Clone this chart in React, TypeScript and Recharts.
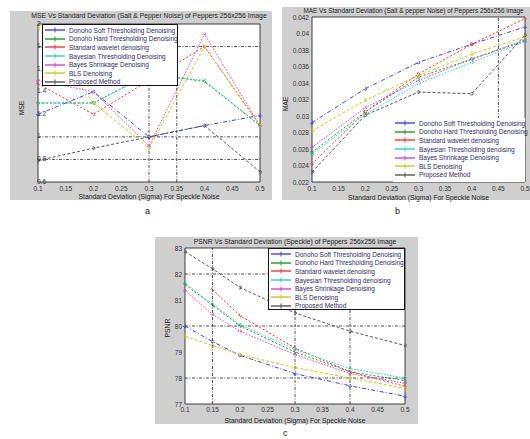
import React from "react";
import {
  LineChart,
  Line,
  XAxis,
  YAxis,
  CartesianGrid,
  ReferenceLine,
  ReferenceArea,
} from "recharts";

// shared x values
const sigmaAB = [0.1, 0.2, 0.3, 0.4, 0.5];
const sigmaC = [0.1, 0.15, 0.2, 0.3, 0.4, 0.5];
const xTicks = [0.1, 0.15, 0.2, 0.25, 0.3, 0.35, 0.4, 0.45, 0.5];

// (a) MSE, salt & pepper
const mseSoft = [1.2, 1.4, 1.0, 1.1, 1.19];
const mseHard = [1.3, 1.3, 1.56, 1.49, 1.1];
const mseStd = [1.47, 1.2, 1.5, 1.8, 1.1];
const mseBayesThr = [1.3, 1.3, 1.55, 1.5, 1.1];
const mseBayesShrink = [1.5, 1.4, 0.92, 1.91, 1.1];
const mseBls = [1.97, 1.3, 0.9, 1.8, 1.1];
const mseProposed = [0.79, 0.9, 1.0, 1.1, 0.69];
const mseTicks = [0.6, 0.8, 1, 1.2, 1.4, 1.6, 1.8, 2];

// (b) MAE, salt & pepper
const maeSoft = [0.0292, 0.0333, 0.0365, 0.0387, 0.0408];
const maeHard = [0.0256, 0.0305, 0.0347, 0.0369, 0.0391];
const maeStd = [0.0242, 0.0305, 0.0351, 0.0387, 0.0418];
const maeBayesThr = [0.0254, 0.0302, 0.0339, 0.0365, 0.039];
const maeBayesShrink = [0.0262, 0.031, 0.0343, 0.0369, 0.0392];
const maeBls = [0.0282, 0.0319, 0.0349, 0.0375, 0.0396];
const maeProposed = [0.0232, 0.0301, 0.0329, 0.0327, 0.0398];
const maeTicks = [0.022, 0.024, 0.026, 0.028, 0.03, 0.032, 0.034, 0.036, 0.038, 0.04, 0.042];

// (c) PSNR, speckle
const psnrSoft = [80.0, 79.4, 78.87, 78.17, 77.7, 77.3];
const psnrHard = [81.6, 80.8, 80.0, 79.0, 78.24, 77.9];
const psnrStd = [null, 81.4, 80.4, 79.15, 78.24, 77.68];
const psnrBayesThr = [81.65, 80.85, 80.05, 79.1, 78.36, 78.0];
const psnrBayesShrink = [81.36, 80.45, 79.8, 78.9, 78.17, 77.8];
const psnrBls = [79.6, 79.25, 78.9, 78.4, 78.0, 77.6];
const psnrProposed = [82.86, 82.2, 81.48, 80.5, 79.8, 79.25];
const psnrTicks = [77, 78, 79, 80, 81, 82, 83];

const namesA = [
  "Donoho Soft Thresholding Denoising",
  "Donoho Hard Thresholding Denoising",
  "Standard wavelet denoising",
  "Bayesian Thresholding Denoising",
  "Bayes Shrinkage Denoising",
  "BLS Denoising",
  "Proposed Method",
];
const namesBC = [
  "Donoho Soft Thresholding Denoising",
  "Donoho Hard Thresholding Denoising",
  "Standard wavelet denoising",
  "Bayesian Thresholding denoising",
  "Bayes Shrinkage Denoising",
  "BLS Denoising",
  "Proposed Method",
];

const keys = ["soft", "hard", "std", "bthr", "bshr", "bls", "prop"];
const colors = ["#3d3dff", "#1f9a1f", "#ff3333", "#33cccc", "#d244d2", "#c8c828", "#555555"];
const dashes = ["4 2 1 2", "2 2", "2 2", "1.5 1.5", "1.5 1.5", "3 2", "3 2"];

const toRows = (xs: number[], series: (number | null)[][]) =>
  xs.map((x, i) => {
    const row: any = { x };
    keys.forEach((k, j) => (row[k] = series[j][i]));
    return row;
  });

const dataA = toRows(sigmaAB, [mseSoft, mseHard, mseStd, mseBayesThr, mseBayesShrink, mseBls, mseProposed]);
const dataB = toRows(sigmaAB, [maeSoft, maeHard, maeStd, maeBayesThr, maeBayesShrink, maeBls, maeProposed]);
const dataC = toRows(sigmaC, [psnrSoft, psnrHard, psnrStd, psnrBayesThr, psnrBayesShrink, psnrBls, psnrProposed]);

const FONT = "'Liberation Sans', Arial, sans-serif";
const fmtX = (v: number) => String(+v.toFixed(2));

type Box = { left: number; top: number; width: number; height: number };
type Plot = { left: number; top: number; right: number; bottom: number };

function LegendBox({ box, names, border }: { box: Box; names: string[]; border: boolean }) {
  return (
    <div
      style={{
        position: "absolute",
        left: box.left,
        top: box.top,
        width: box.width,
        height: box.height,
        background: "#fff",
        border: border ? "1px solid #111" : "none",
        boxSizing: "border-box",
        zIndex: 2,
        fontFamily: FONT,
        fontSize: 6.5,
        color: "#2e2a5c",
      }}
    >
      {names.map((n, i) => (
        <div
          key={n}
          style={{
            position: "absolute",
            left: 0,
            top: 1 + i * 8.6,
            height: 8.6,
            display: "flex",
            alignItems: "center",
            whiteSpace: "nowrap",
          }}
        >
          <svg width={24} height={8} style={{ marginRight: 2 }}>
            <line x1={2} y1={4} x2={22} y2={4} stroke={colors[i]} strokeWidth={1.4} />
            <line x1={12} y1={1.5} x2={12} y2={6.5} stroke={colors[i]} strokeWidth={1} />
          </svg>
          <span>{n}</span>
        </div>
      ))}
    </div>
  );
}

function Panel(props: {
  box: Box;
  plot: Plot;
  data: any[];
  yDomain: [number, number];
  yTicks: number[];
  yFmt: (v: number) => string;
  insideY?: boolean;
  xTickGap: number;
  title: string;
  titleY: number;
  titleDX?: number;
  titleSize?: number;
  xLabelY: number;
  yLabel: string;
  yLabelX: number;
  yLabelY: number;
  gridX: number[];
  gridY: number[];
  legend: Box;
  names: string[];
  legendBorder: boolean;
}) {
  const { box, plot } = props;
  const margin = {
    top: plot.top - box.top,
    right: box.left + box.width - plot.right,
    left: 0,
    bottom: 0,
  };
  const yW = plot.left - box.left;
  const xH = box.top + box.height - plot.bottom;
  const cx = (plot.left + plot.right) / 2 - box.left;
  const text = { position: "absolute" as const, fontFamily: FONT, color: "#222", whiteSpace: "nowrap" as const };

  const yTick = (p: any) => (
    <text
      x={props.insideY ? p.x + 2 : p.x}
      y={props.insideY ? p.y - 1 : p.y}
      textAnchor={props.insideY ? "start" : "end"}
      dominantBaseline="central"
      fontSize={6.5}
      fill="#333"
      fontFamily={FONT}
    >
      {props.yFmt(p.payload.value)}
    </text>
  );

  return (
    <div
      style={{
        position: "absolute",
        left: box.left,
        top: box.top,
        width: box.width,
        height: box.height,
        background: "#cfcfcf",
      }}
    >
      <LineChart width={box.width} height={box.height} data={props.data} margin={margin}>
        <CartesianGrid horizontal={false} vertical={false} fill="#fff" />
        {props.gridX.map((g) => (
          <ReferenceLine key={"x" + g} x={g} stroke="#222" strokeWidth={0.8} strokeDasharray="3 1.5 1 1.5" />
        ))}
        {props.gridY.map((g) => (
          <ReferenceLine key={"y" + g} y={g} stroke="#222" strokeWidth={0.8} strokeDasharray="3 1.5 1 1.5" />
        ))}
        <XAxis
          dataKey="x"
          type="number"
          domain={[0.1, 0.5]}
          ticks={xTicks}
          tickFormatter={fmtX}
          height={xH}
          axisLine={false}
          tickLine={false}
          tickSize={0}
          tickMargin={props.xTickGap}
          tick={{ fontSize: 6.5, fill: "#333", fontFamily: FONT }}
          interval={0}
        />
        <YAxis
          type="number"
          domain={props.yDomain}
          ticks={props.yTicks}
          width={yW}
          axisLine={false}
          tickLine={false}
          tickSize={0}
          tickMargin={3}
          tick={yTick}
          interval={0}
          allowDataOverflow
        />
        <ReferenceArea
          x1={0.1}
          x2={0.5}
          y1={props.yDomain[0]}
          y2={props.yDomain[1]}
          fill="none"
          fillOpacity={0}
          stroke="#111"
          strokeWidth={0.8}
        />
        {keys.map((k, i) => (
          <Line
            key={k}
            dataKey={k}
            stroke={colors[i]}
            strokeWidth={1}
            strokeDasharray={dashes[i]}
            dot={{ r: 1.4, fill: "none", stroke: colors[i], strokeWidth: 1 }}
            isAnimationActive={false}
            connectNulls={false}
          />
        ))}
      </LineChart>
      <div
        style={{
          ...text,
          left: cx + (props.titleDX ?? 0),
          top: props.titleY - box.top,
          transform: "translate(-50%, -50%)",
          fontSize: props.titleSize ?? 6.8,
        }}
      >
        {props.title}
      </div>
      <div
        style={{
          ...text,
          left: cx,
          top: props.xLabelY - box.top,
          transform: "translate(-50%, -50%)",
          fontSize: 6.8,
        }}
      >
        Standard Deviation (Sigma) For Speckle Noise
      </div>
      <div
        style={{
          ...text,
          left: props.yLabelX - box.left,
          top: props.yLabelY - box.top,
          transform: "translate(-50%, -50%) rotate(-90deg)",
          fontSize: 6.8,
        }}
      >
        {props.yLabel}
      </div>
      <LegendBox
        box={{
          left: props.legend.left - box.left,
          top: props.legend.top - box.top,
          width: props.legend.width,
          height: props.legend.height,
        }}
        names={props.names}
        border={props.legendBorder}
      />
    </div>
  );
}

export default function App() {
  const caption = { position: "absolute" as const, fontFamily: FONT, fontSize: 9, color: "#222" };
  return (
    <div style={{ position: "absolute", left: 0, top: 0, width: 530, height: 439, background: "#fff", overflow: "hidden" }}>
      <Panel
        box={{ left: 10, top: 11, width: 262, height: 189 }}
        plot={{ left: 38, top: 24, right: 260, bottom: 182 }}
        data={dataA}
        yDomain={[0.6, 2]}
        yTicks={mseTicks}
        yFmt={(v) => String(+v.toFixed(1))}
        insideY
        xTickGap={4}
        title="MSE Vs Standard Deviation (Salt & Pepper Noise) of Peppers 256x256 Image"
        titleY={15}
        xLabelY={196}
        yLabel="MSE"
        yLabelX={21}
        yLabelY={108}
        gridX={[0.3, 0.35]}
        gridY={[0.8, 1.0, 1.8]}
        legend={{ left: 42, top: 24, width: 136, height: 62 }}
        names={namesA}
        legendBorder
      />
      <Panel
        box={{ left: 282, top: 7, width: 248, height: 193 }}
        plot={{ left: 312, top: 17, right: 525, bottom: 182 }}
        data={dataB}
        yDomain={[0.022, 0.042]}
        yTicks={maeTicks}
        yFmt={(v) => String(+v.toFixed(3))}
        xTickGap={4}
        title="MAE Vs Standard Deviation (Salt & pepper Noise) of Peppers 256x256 image"
        titleY={10}
        titleDX={-5}
        titleSize={6.4}
        xLabelY={197}
        yLabel="MAE"
        yLabelX={285}
        yLabelY={104}
        gridX={[0.45]}
        gridY={[]}
        legend={{ left: 393, top: 118, width: 132, height: 64 }}
        names={namesBC}
        legendBorder={false}
      />
      <Panel
        box={{ left: 155, top: 237, width: 263, height: 187 }}
        plot={{ left: 185, top: 248, right: 405, bottom: 404 }}
        data={dataC}
        yDomain={[77, 83]}
        yTicks={psnrTicks}
        yFmt={(v) => String(v)}
        xTickGap={3}
        title="PSNR Vs Standard Deviation (Speckle) of Peppers 256x256 Image"
        titleY={241}
        xLabelY={419.5}
        yLabel="PSNR"
        yLabelX={167}
        yLabelY={328}
        gridX={[0.15, 0.3, 0.4]}
        gridY={[78, 80, 82]}
        legend={{ left: 268, top: 248, width: 137, height: 62 }}
        names={namesBC}
        legendBorder
      />
      <div style={{ ...caption, left: 145, top: 206 }}>a</div>
      <div style={{ ...caption, left: 395, top: 206 }}>b</div>
      <div style={{ ...caption, left: 283, top: 428 }}>c</div>
    </div>
  );
}
